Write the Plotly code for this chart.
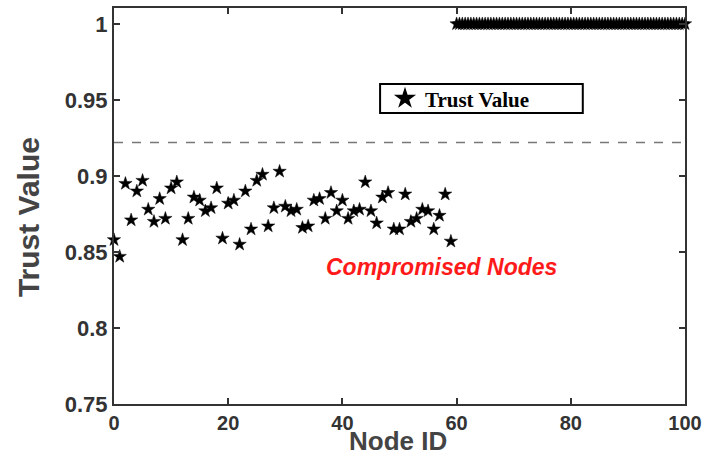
import plotly.graph_objects as go

# Compromised nodes (IDs 0-59)
comp_ids = list(range(0, 60))
comp_trust = [0.858, 0.847, 0.895, 0.871, 0.890, 0.897, 0.878, 0.870, 0.885, 0.872,
              0.892, 0.896, 0.858, 0.872, 0.886, 0.884, 0.877, 0.879, 0.892, 0.859,
              0.882, 0.884, 0.855, 0.890, 0.865, 0.897, 0.901, 0.867, 0.879, 0.903,
              0.880, 0.877, 0.878, 0.866, 0.867, 0.884, 0.885, 0.872, 0.889, 0.877,
              0.884, 0.872, 0.877, 0.878, 0.896, 0.877, 0.869, 0.886, 0.889, 0.865,
              0.865, 0.888, 0.870, 0.872, 0.878, 0.877, 0.865, 0.874, 0.888, 0.857]

# Honest nodes (IDs 60-100), all at trust 1
honest_ids = [60 + 0.5 * i for i in range(81)]
honest_trust = [1.0] * len(honest_ids)

threshold = 0.922

x_ticks = [0, 20, 40, 60, 80, 100]
y_ticks = [0.75, 0.8, 0.85, 0.9, 0.95, 1.0]
y_tick_text = ["0.75", "0.8", "0.85", "0.9", "0.95", "1"]

ids = comp_ids + honest_ids
trust = comp_trust + honest_trust

fig = go.Figure()
fig.add_trace(go.Scatter(
    x=ids, y=trust, mode="markers", name="<b>Trust Value</b>",
    marker=dict(symbol="star", size=10, color="black",
                line=dict(color="black", width=0.5)),
    cliponaxis=False,
))

fig.add_shape(type="line", xref="paper", x0=0, x1=1, yref="y",
              y0=threshold, y1=threshold,
              line=dict(color="#777777", width=1.5, dash="dash"))

# legend frame
fig.add_shape(type="rect", xref="paper", yref="paper",
              x0=0.466, x1=0.821, y0=0.735, y1=0.808,
              line=dict(color="black", width=2), fillcolor="white", layer="below")

fig.add_annotation(x=57.4, y=0.840, xref="x", yref="y",
                   text="<b><i>Compromised Nodes</i></b>", showarrow=False,
                   font=dict(family="Liberation Sans, Arial", size=23, color="#ff1a1a"))

# axis titles
fig.add_annotation(x=0.497, y=-0.1338, xref="paper", yref="paper",
                   text="<b>Node ID</b>", showarrow=False,
                   xanchor="center", yanchor="bottom", borderpad=0,
                   font=dict(family="Liberation Sans, Arial", size=26, color="#444444"))
fig.add_annotation(x=-0.1506, y=0.472, xref="paper", yref="paper",
                   text="<b>Trust Value</b>", showarrow=False, textangle=-90,
                   xanchor="center", yanchor="middle",
                   font=dict(family="Liberation Sans, Arial", size=30, color="#444444"))

axis_common = dict(
    showline=True, linecolor="#333333", linewidth=2, mirror="ticks",
    ticks="inside", ticklen=6, tickwidth=1.5, tickcolor="#333333",
    showgrid=False, zeroline=False, ticklabeloverflow="allow", automargin=False,
)

fig.update_xaxes(range=[0, 100], tickvals=x_ticks,
                 ticktext=[f"<b>{v}</b>" for v in x_ticks],
                 tickfont=dict(family="Liberation Sans, Arial", size=20, color="#333333"),
                 **axis_common)
fig.update_yaxes(range=[0.75, 1.0105], tickvals=y_ticks,
                 ticktext=[f"<b>{t}</b>" for t in y_tick_text],
                 tickfont=dict(family="Liberation Sans, Arial", size=22, color="#333333"),
                 **axis_common)

fig.update_layout(
    width=702, height=458,
    margin=dict(l=114, r=17, t=8, b=54),
    plot_bgcolor="white", paper_bgcolor="white",
    showlegend=True,
    legend=dict(x=0.4746, y=0.771, xanchor="left", yanchor="middle",
                borderwidth=0, bgcolor="rgba(0,0,0,0)",
                font=dict(family="Liberation Serif, Times New Roman", size=21, color="black"),
                itemsizing="constant"),
)

fig.write_html("out.html")
